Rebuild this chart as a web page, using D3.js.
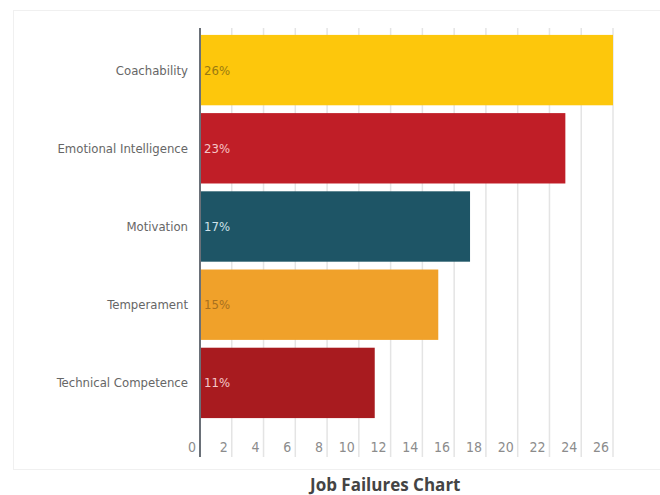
<!DOCTYPE html>
<html>
<head>
<meta charset="utf-8">
<script src="https://cdn.jsdelivr.net/npm/d3@7"></script>
<style>
  body { margin: 0; background: #fff; }
  svg { display: block; }
  .narrow { font-family: 'Liberation Sans Narrow', 'DejaVu Sans Condensed', 'DejaVu Sans', sans-serif; font-stretch: condensed; }
</style>
</head>
<body>
<svg id="viz" width="660" height="495"></svg>
<script>
// chart data
var categories = ["Coachability", "Emotional Intelligence", "Motivation", "Temperament", "Technical Competence"];
var values = [26, 23, 17, 15, 11];
var valueLabels = ["26%", "23%", "17%", "15%", "11%"];
var barColors = ["#fdc70c", "#c01e27", "#1e5566", "#f0a12a", "#a81b1f"];
var labelColors = ["#9a7a10", "#f6c6c6", "#cfe2ea", "#a8701e", "#f4caca"];
var tickValues = [0, 2, 4, 6, 8, 10, 12, 14, 16, 18, 20, 22, 24, 26];
var caption = "Job Failures Chart";

var svg = d3.select("#viz");

// faint frame round the chart
svg.append("rect")
	.attr("x", 13.5).attr("y", 10.5)
	.attr("width", 660).attr("height", 459)
	.attr("fill", "none")
	.attr("stroke", "#f0f0f0");

var plotLeft = 200, plotTop = 35, plotBottom = 418;

var x = d3.scaleLinear().domain([0, 26]).range([plotLeft, 613]);
var y = d3.scaleBand().domain(categories).range([plotTop - 4, plotBottom + 4]).paddingInner(0.1).paddingOuter(0.05);

// gridlines
svg.append("g").selectAll("line")
	.data(tickValues.slice(1))
	.enter().append("line")
	.attr("x1", function(d) { return x(d); })
	.attr("x2", function(d) { return x(d); })
	.attr("y1", 28).attr("y2", 457)
	.attr("stroke", "#e4e4e4")
	.attr("stroke-width", 1.5);

// bars
svg.append("g").selectAll("rect")
	.data(values)
	.enter().append("rect")
	.attr("x", x(0))
	.attr("y", function(d, i) { return y(categories[i]); })
	.attr("width", function(d) { return x(d) - x(0); })
	.attr("height", y.bandwidth())
	.attr("fill", function(d, i) { return barColors[i]; });

// value labels inside bars
svg.append("g").selectAll("text")
	.data(valueLabels)
	.enter().append("text")
	.attr("class", "narrow")
	.attr("x", x(0) + 4)
	.attr("y", function(d, i) { return y(categories[i]) + y.bandwidth() / 2; })
	.attr("dy", "0.35em")
	.style("font-size", "13px")
	.attr("fill", function(d, i) { return labelColors[i]; })
	.text(function(d) { return d; });

// category labels
svg.append("g").selectAll("text")
	.data(categories)
	.enter().append("text")
	.attr("class", "narrow")
	.attr("x", 188)
	.attr("y", function(d) { return y(d) + y.bandwidth() / 2; })
	.attr("dy", "0.35em")
	.attr("text-anchor", "end")
	.style("font-size", "13px")
	.attr("fill", "#666")
	.text(function(d) { return d; });

// x tick labels, sitting just left of each gridline
svg.append("g").selectAll("text")
	.data(tickValues)
	.enter().append("text")
	.attr("class", "narrow")
	.attr("x", function(d) { return x(d) - 4; })
	.attr("y", 452)
	.attr("text-anchor", "end")
	.style("font-size", "14px")
	.attr("fill", "#8c8c8c")
	.text(function(d) { return d; });

// axis line
svg.append("line")
	.attr("x1", x(0)).attr("x2", x(0))
	.attr("y1", 28).attr("y2", 457)
	.attr("stroke", "#6a7078")
	.attr("stroke-width", 2);

// caption
svg.append("text")
	.attr("x", 310)
	.attr("y", 491)
	.style("font-family", "'Open Sans', sans-serif")
	.style("font-weight", "bold")
	.style("font-size", "17px")
	.attr("fill", "#444")
	.text(caption);
</script>
</body>
</html>
